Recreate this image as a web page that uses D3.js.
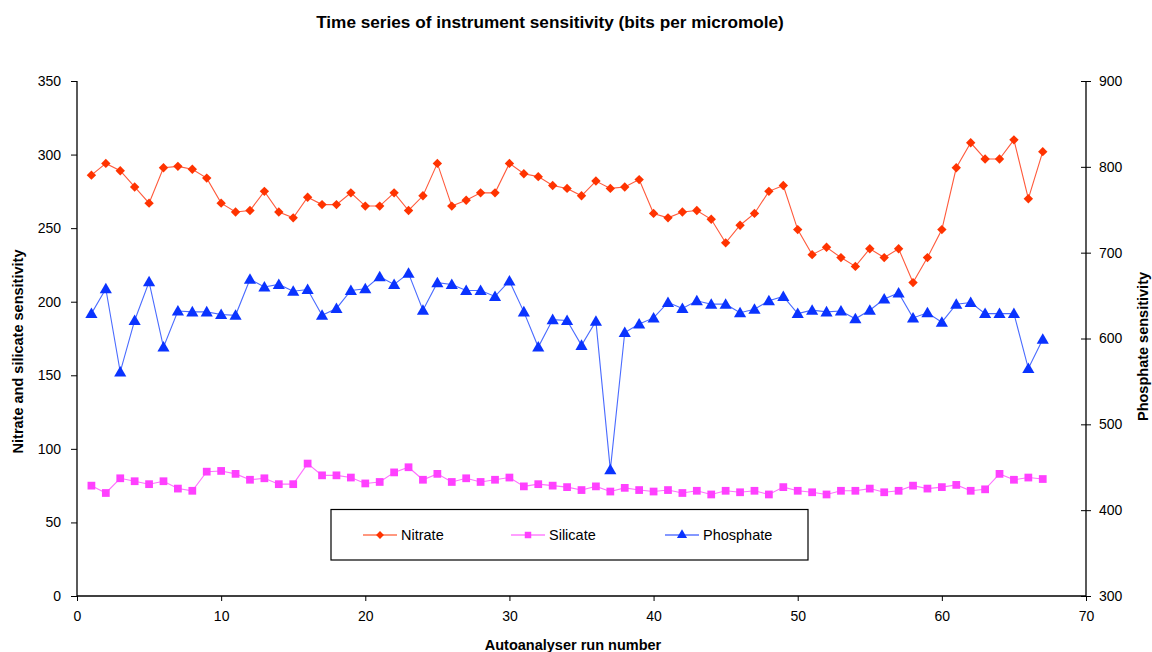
<!DOCTYPE html>
<html>
<head>
<meta charset="utf-8">
<script src="https://cdn.jsdelivr.net/npm/d3@7"></script>
<style>
  html, body { margin: 0; padding: 0; background: #fff; }
  svg { display: block; font-family: "Liberation Sans", Arial, sans-serif; }
</style>
</head>
<body>
<svg id="chart" width="1152" height="652"></svg>
<script>
const runs = d3.range(1, 68);
const nitrate = [286, 294, 289, 278, 267, 291, 292, 290, 284, 267,
  261, 262, 275, 261, 257, 271, 266, 266, 274, 265,
  265, 274, 262, 272, 294, 265, 269, 274, 274, 294,
  287, 285, 279, 277, 272, 282, 277, 278, 283, 260,
  257, 261, 262, 256, 240, 252, 260, 275, 279, 249,
  232, 237, 230, 224, 236, 230, 236, 213, 230, 249,
  291, 308, 297, 297, 310, 270, 302];
const silicate = [75, 70, 80, 78, 76, 78, 73, 71.5, 84.5, 85,
  83, 79, 80, 76, 76, 90, 82, 82, 80.5, 76.5,
  77.5, 84, 87.5, 79, 83, 77.5, 80, 77.5, 79, 80.5,
  74.5, 76, 75, 74, 72, 74.5, 71, 73.5, 72, 71,
  72, 70, 71.5, 69, 71.5, 70.5, 71.5, 69, 74, 71.5,
  70.5, 69, 71.5, 71.5, 73, 70.5, 71.5, 75, 73, 74,
  75.5, 71.5, 72.5, 83, 79, 80.5, 79.5];
const phosphate = [629, 658, 561, 621, 666, 590, 632, 631, 631, 628,
  627, 669, 660, 663, 655, 657, 627, 635, 656, 658,
  672, 663, 676, 633, 665, 663, 656, 656, 649, 667,
  631, 590, 622, 621, 592, 620, 447, 607, 617, 624,
  642, 635, 644, 640, 640, 630, 634, 644, 649, 629,
  633, 631, 632, 623, 633, 646, 653, 624, 630, 619,
  640, 642, 629, 629, 629, 565, 599];
const xTicks = [0, 10, 20, 30, 40, 50, 60, 70];
const yLeftTicks = [0, 50, 100, 150, 200, 250, 300, 350];
const yRightTicks = [300, 400, 500, 600, 700, 800, 900];
const seriesNames = ["Nitrate", "Silicate", "Phosphate"];

const svg = d3.select("#chart");
const mLeft = 77, mRight = 1086, mTop = 81, mBottom = 596;
const x = d3.scaleLinear().domain([0, 70]).range([mLeft, mRight]);
const yL = d3.scaleLinear().domain([0, 350]).range([mBottom, mTop]);
const yR = d3.scaleLinear().domain([300, 900]).range([mBottom, mTop]);

const colors = {
  Nitrate: { mark: "#FF3300", line: "#FF5A3C" },
  Silicate: { mark: "#FF40FF", line: "#FF70FF" },
  Phosphate: { mark: "#0A33FF", line: "#4A6BFF" }
};

// Title
svg.append("text").attr("x", 550).attr("y", 28).attr("text-anchor", "middle")
  .attr("font-size", 17.2).attr("font-weight", "bold").attr("fill", "#000")
  .text("Time series of instrument sensitivity (bits per micromole)");

// Axes
const gx = svg.append("g").attr("transform", `translate(0,${mBottom})`)
  .call(d3.axisBottom(x).tickValues(xTicks).tickSize(5).tickPadding(10).tickFormat(d3.format("d")));
const gl = svg.append("g").attr("transform", `translate(${mLeft},0)`)
  .call(d3.axisLeft(yL).tickValues(yLeftTicks).tickSize(6).tickPadding(10).tickFormat(d3.format("d")));
const gr = svg.append("g").attr("transform", `translate(${mRight},0)`)
  .call(d3.axisRight(yR).tickValues(yRightTicks).tickSize(5).tickPadding(8).tickFormat(d3.format("d")));
gr.selectAll(".tick line").attr("x1", -5);
[gx, gl, gr].forEach(g => {
  g.select(".domain").attr("stroke", "#000").attr("stroke-width", 1.3);
  g.selectAll(".tick line").attr("stroke", "#000");
  g.selectAll(".tick text").attr("font-size", 14).attr("fill", "#000")
    .attr("font-family", "'Liberation Sans', Arial, sans-serif");
});
gx.select(".domain").attr("d", `M${mLeft},0H${mRight}`);
gl.select(".domain").attr("d", `M0,${mTop}V${mBottom}`);
gr.select(".domain").attr("d", `M0,${mTop}V${mBottom}`);

// Axis titles
svg.append("text").attr("transform", `translate(23,${(mTop + mBottom) / 2 + 13}) rotate(-90)`)
  .attr("text-anchor", "middle").attr("font-size", 14.5).attr("font-weight", "bold")
  .text("Nitrate and silicate sensitivity");
svg.append("text").attr("transform", `translate(1148,${(mTop + mBottom) / 2 + 8}) rotate(-90)`)
  .attr("text-anchor", "middle").attr("font-size", 14.5).attr("font-weight", "bold")
  .text("Phosphate sensitivity");
svg.append("text").attr("x", 573).attr("y", 650)
  .attr("text-anchor", "middle").attr("font-size", 14.5).attr("font-weight", "bold")
  .text("Autoanalyser run number");

// Series
const diamond = { draw(ctx, size) { const r = Math.sqrt(size / 2); ctx.moveTo(0, -r); ctx.lineTo(r, 0); ctx.lineTo(0, r); ctx.lineTo(-r, 0); ctx.closePath(); } };
const series = [
  { name: "Nitrate", values: nitrate, y: yL, symbol: diamond, size: 44 },
  { name: "Silicate", values: silicate, y: yL, symbol: d3.symbolSquare, size: 60 },
  { name: "Phosphate", values: phosphate, y: yR, symbol: d3.symbolTriangle, size: 64 }
];

series.forEach(s => {
  const pts = runs.map((r, i) => [r, s.values[i]]);
  const line = d3.line().x(d => x(d[0])).y(d => s.y(d[1]));
  svg.append("path").datum(pts).attr("d", line).attr("fill", "none")
    .attr("stroke", colors[s.name].line).attr("stroke-width", 1.1);
  svg.append("g").selectAll("path").data(pts).join("path")
    .attr("transform", d => `translate(${x(d[0])},${s.y(d[1]) + (s.symbol === d3.symbolTriangle ? 1 : 0)})`)
    .attr("d", d3.symbol().type(s.symbol).size(s.size))
    .attr("fill", colors[s.name].mark);
});

// Legend
const lg = svg.append("g");
lg.append("rect").attr("x", 331).attr("y", 509.5).attr("width", 477).attr("height", 50.5)
  .attr("fill", "#fff").attr("stroke", "#000").attr("stroke-width", 1.2);
const legendX = [363, 511, 665];
series.forEach((s, i) => {
  const lx = legendX[i], ly = 535;
  lg.append("line").attr("x1", lx).attr("x2", lx + 34).attr("y1", ly).attr("y2", ly)
    .attr("stroke", colors[s.name].mark).attr("stroke-width", 1.2);
  lg.append("path").attr("transform", `translate(${lx + 17},${ly})`)
    .attr("d", d3.symbol().type(s.symbol).size(s.size * 0.7)).attr("fill", colors[s.name].mark);
  lg.append("text").attr("x", lx + 38).attr("y", ly + 5).attr("font-size", 14.5)
    .attr("fill", "#000").text(seriesNames[i]);
});
</script>
</body>
</html>
